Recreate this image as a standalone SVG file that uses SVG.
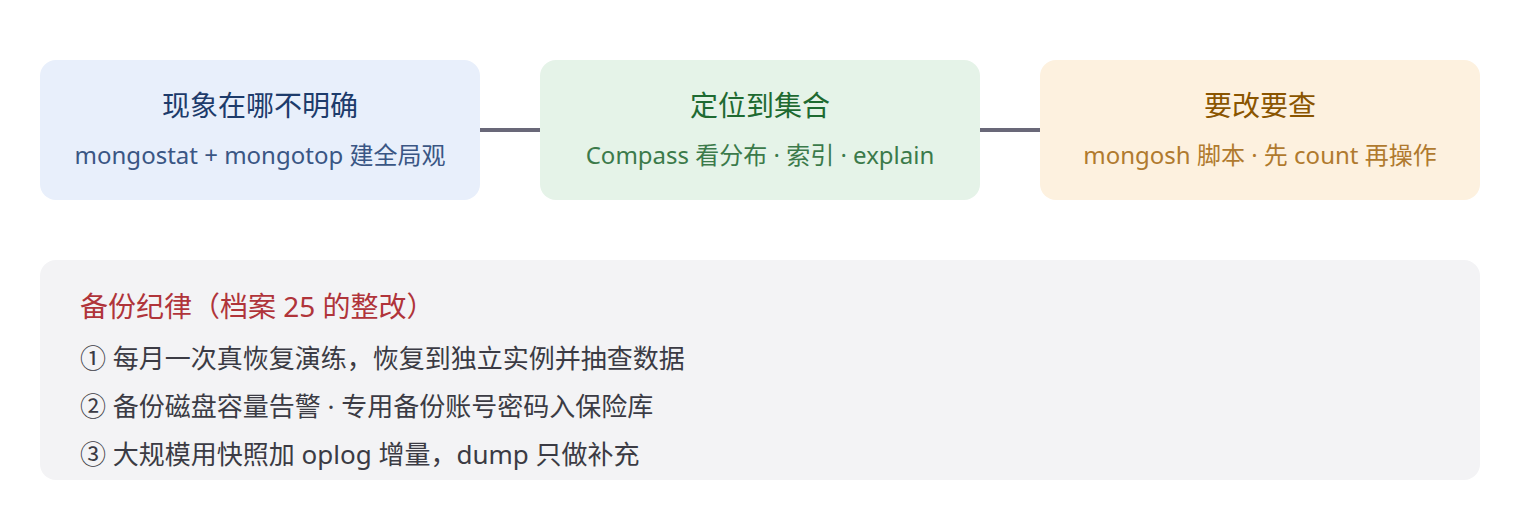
<svg xmlns="http://www.w3.org/2000/svg" width="1520" height="520" viewBox="0 0 1520 520">
<style>
text{font-family:"Noto Sans","Noto Sans CJK SC",sans-serif;}
.t{font-size:28px;text-anchor:middle;}
.s{font-size:24px;text-anchor:middle;}
.bt{font-size:28px;fill:#b0343a;}
.bi{font-size:26px;fill:#3b3b44;}
.conn{stroke:#696878;stroke-width:4;fill:none;}
</style>
<rect width="1520" height="520" fill="#ffffff"/>
<g id="connectors">
<line class="conn" x1="480" y1="130" x2="540" y2="130"/>
<line class="conn" x1="980" y1="130" x2="1040" y2="130"/>
</g>
<g id="node1">
<rect x="40" y="60" width="440" height="140" rx="16" fill="#e8effb"/>
<text class="t" x="260" y="116" fill="#1d3b6b">现象在哪不明确</text>
<text class="s" x="260" y="164" fill="#3a5684">mongostat + mongotop 建全局观</text>
</g>
<g id="node2">
<rect x="540" y="60" width="440" height="140" rx="16" fill="#e5f3e8"/>
<text class="t" x="760" y="116" fill="#1e6a31">定位到集合</text>
<text class="s" x="760" y="164" fill="#3b7a4a">Compass 看分布 · 索引 · explain</text>
</g>
<g id="node3">
<rect x="1040" y="60" width="440" height="140" rx="16" fill="#fdf1df"/>
<text class="t" x="1260" y="116" fill="#8a5500">要改要查</text>
<text class="s" x="1260" y="164" fill="#b07a2e">mongosh 脚本 · 先 count 再操作</text>
</g>
<g id="backup">
<rect x="40" y="260" width="1440" height="220" rx="16" fill="#f3f3f5"/>
<text class="bt" x="80" y="317">备份纪律（档案 25 的整改）</text>
<text class="bi" x="80" y="368">① 每月一次真恢复演练，恢复到独立实例并抽查数据</text>
<text class="bi" x="80" y="416">② 备份磁盘容量告警 · 专用备份账号密码入保险库</text>
<text class="bi" x="80" y="464">③ 大规模用快照加 oplog 增量，dump 只做补充</text>
</g>
</svg>
